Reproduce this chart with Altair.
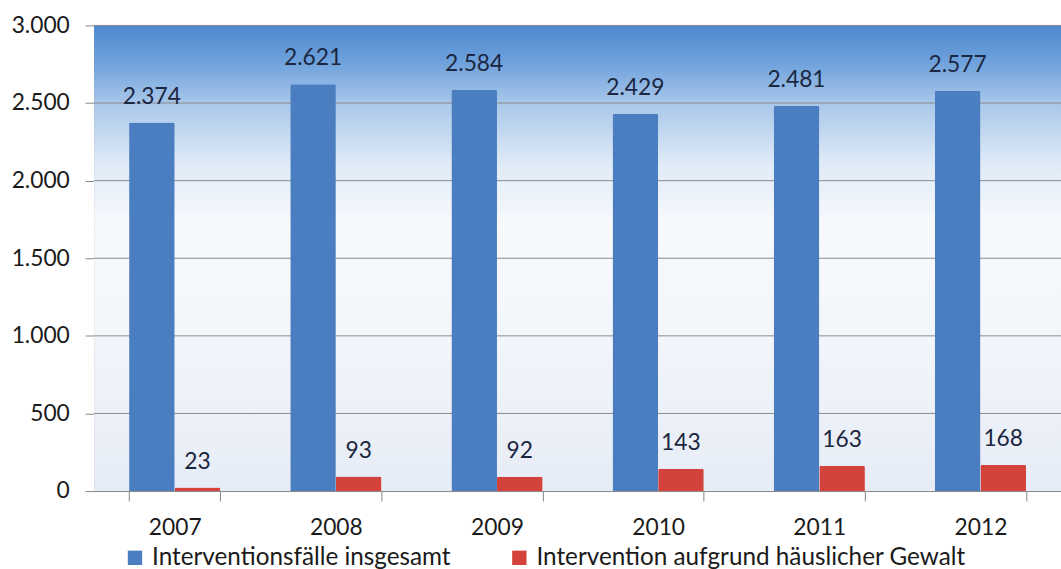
import altair as alt
import pandas as pd

years = ["2007", "2008", "2009", "2010", "2011", "2012"]
series = ["Interventionsfälle insgesamt", "Intervention aufgrund häuslicher Gewalt"]
total = [2374, 2621, 2584, 2429, 2481, 2577]
domestic = [23, 93, 92, 143, 163, 168]
colors = ["#4a7ec1", "#d4433b"]
grid_values = [500, 1000, 1500, 2000, 2500, 3000]
y_ticks = [0, 500, 1000, 1500, 2000, 2500, 3000]

rows = []
for i, y in enumerate(years):
    rows.append({"year": y, "series": series[0], "value": total[i]})
    rows.append({"year": y, "series": series[1], "value": domestic[i]})
df = pd.DataFrame(rows)

FONT = "Lato"
W, H = 976, 470
yscale = alt.Scale(domain=[0, 3000], nice=False, zero=True)
xscale = alt.Scale(domain=years, paddingInner=0.434, paddingOuter=0.217)
oscale = alt.Scale(domain=series, paddingInner=0, paddingOuter=0)

yaxis = alt.Axis(values=y_ticks, title=None, grid=False,
                 labelExpr="replace(format(datum.value, ','), ',', '.')",
                 labelFont=FONT, labelFontSize=23, labelColor="#1a1a1a",
                 labelPadding=16, tickSize=9, tickColor="#878787",
                 domainColor="#878787")
xaxis = alt.Axis(title=None, labelAngle=0, labelFont=FONT, labelFontSize=23,
                 labelColor="#1a1a1a", labelPadding=16, tickSize=10, grid=False,
                 tickBand="extent", tickColor="#878787", domainColor="#878787")

grad = alt.LinearGradient(
    gradient="linear", x1=0, x2=0, y1=0, y2=1,
    stops=[
        alt.GradientStop(offset=0.0, color="#4d88cf"),
        alt.GradientStop(offset=0.08, color="#6fa2dc"),
        alt.GradientStop(offset=0.17, color="#aac8ea"),
        alt.GradientStop(offset=0.30, color="#e0ebf7"),
        alt.GradientStop(offset=0.42, color="#f7f9fd"),
        alt.GradientStop(offset=0.65, color="#f3f6fb"),
        alt.GradientStop(offset=1.0, color="#e6ecf6"),
    ],
)

bg = alt.Chart(pd.DataFrame({"top": [3000], "bottom": [0]})).mark_rect(color=grad).encode(
    y=alt.Y("top:Q", scale=yscale, axis=yaxis),
    y2="bottom:Q",
    x=alt.value(0),
    x2=alt.value(W),
)

grid = alt.Chart(pd.DataFrame({"top": grid_values})).mark_rule(color="#8a8a8a", strokeWidth=1).encode(
    y=alt.Y("top:Q", scale=yscale, axis=yaxis)
)

bars = alt.Chart(df).mark_bar(cornerRadiusTopLeft=1.5, cornerRadiusTopRight=1.5).encode(
    x=alt.X("year:N", scale=xscale, sort=years, axis=xaxis),
    xOffset=alt.XOffset("series:N", sort=series, scale=oscale),
    y=alt.Y("value:Q", scale=yscale, axis=yaxis),
    color=alt.Color("series:N", sort=series, scale=alt.Scale(domain=series, range=colors),
                    legend=alt.Legend(title=None, orient="none", legendX=29, legendY=525,
                                      direction="horizontal", symbolType="square",
                                      symbolSize=210, symbolStrokeWidth=0, labelLimit=600,
                                      labelFont=FONT, labelFontSize=24.5, labelColor="#1a1a1a",
                                      labelOffset=5, columnPadding=57, padding=0)),
)

labels = alt.Chart(df).transform_calculate(
    label="replace(format(datum.value, ','), ',', '.')"
).mark_text(dy=-19, baseline="alphabetic", font=FONT, fontSize=23, color="#1b2640").encode(
    x=alt.X("year:N", scale=xscale, sort=years, axis=xaxis),
    xOffset=alt.XOffset("series:N", sort=series, scale=oscale),
    y=alt.Y("value:Q", scale=yscale, axis=yaxis),
    text="label:N",
)

chart = alt.layer(bg, grid, bars, labels).properties(
    width=W, height=H,
    autosize=alt.AutoSizeParams(type="none"),
    padding={"left": 95, "top": 23, "right": 0, "bottom": 76},
    background="white",
).configure_view(stroke=None)

chart.save("out.html", embed_options={"renderer": "svg", "actions": False})
